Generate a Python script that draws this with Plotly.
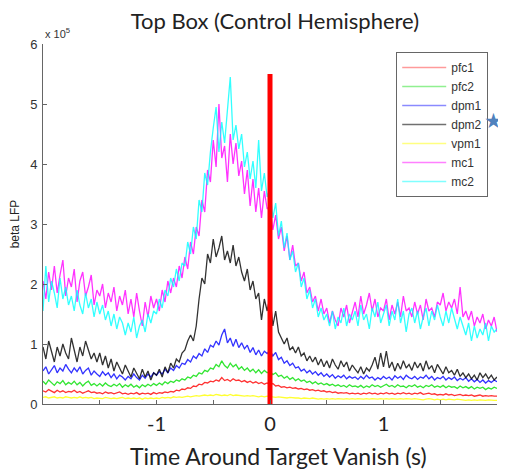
import plotly.graph_objects as go

# ---------------- data (beta LFP, units of 1e5) ----------------
t_start = -2.0
t_step = 0.025

pfc1 = [0.22, 0.20, 0.24, 0.21, 0.19, 0.23, 0.20, 0.22, 0.19, 0.21,
        0.20, 0.23, 0.19, 0.21, 0.18, 0.20, 0.22, 0.19, 0.20, 0.18,
        0.19, 0.17, 0.20, 0.18, 0.19, 0.17, 0.18, 0.20, 0.17, 0.18,
        0.16, 0.18, 0.17, 0.19, 0.16, 0.18, 0.17, 0.18, 0.16, 0.19,
        0.17, 0.19, 0.18, 0.20, 0.19, 0.21, 0.20, 0.23, 0.22, 0.25,
        0.24, 0.27, 0.26, 0.30, 0.29, 0.33, 0.32, 0.36, 0.35, 0.38,
        0.37, 0.40, 0.38, 0.44, 0.39, 0.41, 0.38, 0.42, 0.39, 0.40,
        0.37, 0.39, 0.36, 0.38, 0.35, 0.37, 0.34, 0.36, 0.33, 0.35,
        0.32, 0.34, 0.30, 0.31, 0.28, 0.29, 0.27, 0.28, 0.26, 0.27,
        0.25, 0.26, 0.24, 0.25, 0.23, 0.24, 0.22, 0.23, 0.21, 0.22,
        0.20, 0.21, 0.19, 0.20, 0.18, 0.19, 0.18, 0.19, 0.17, 0.18,
        0.17, 0.18, 0.16, 0.18, 0.17, 0.19, 0.17, 0.18, 0.16, 0.18,
        0.17, 0.19, 0.17, 0.18, 0.16, 0.18, 0.17, 0.19, 0.17, 0.18,
        0.16, 0.18, 0.17, 0.19, 0.16, 0.17, 0.18, 0.16, 0.17, 0.15,
        0.16, 0.15, 0.17, 0.15, 0.16, 0.14, 0.15, 0.16, 0.14, 0.15,
        0.14, 0.15, 0.13, 0.14, 0.15, 0.13, 0.14, 0.13, 0.14, 0.13,
        0.13]

pfc2 = [0.38, 0.33, 0.40, 0.35, 0.31, 0.37, 0.34, 0.39, 0.32, 0.36,
        0.33, 0.38, 0.32, 0.36, 0.30, 0.35, 0.38, 0.31, 0.34, 0.30,
        0.34, 0.30, 0.35, 0.31, 0.29, 0.33, 0.30, 0.34, 0.28, 0.32,
        0.29, 0.33, 0.28, 0.31, 0.27, 0.32, 0.29, 0.33, 0.30, 0.34,
        0.31, 0.35, 0.32, 0.37, 0.34, 0.38, 0.36, 0.40, 0.38, 0.42,
        0.40, 0.45, 0.43, 0.48, 0.46, 0.52, 0.50, 0.56, 0.54, 0.60,
        0.58, 0.66, 0.62, 0.72, 0.64, 0.60, 0.68, 0.62, 0.66, 0.58,
        0.62, 0.56, 0.60, 0.54, 0.58, 0.52, 0.57, 0.51, 0.56, 0.52,
        0.55, 0.49, 0.52, 0.46, 0.48, 0.43, 0.46, 0.41, 0.44, 0.39,
        0.42, 0.38, 0.40, 0.36, 0.38, 0.34, 0.37, 0.33, 0.35, 0.32,
        0.34, 0.31, 0.33, 0.30, 0.32, 0.29, 0.31, 0.28, 0.32, 0.29,
        0.30, 0.28, 0.31, 0.27, 0.30, 0.28, 0.32, 0.29, 0.31, 0.28,
        0.30, 0.33, 0.29, 0.31, 0.28, 0.32, 0.29, 0.30, 0.27, 0.31,
        0.29, 0.32, 0.28, 0.30, 0.27, 0.31, 0.29, 0.32, 0.28, 0.30,
        0.28, 0.31, 0.27, 0.30, 0.28, 0.29, 0.26, 0.30, 0.27, 0.29,
        0.26, 0.29, 0.25, 0.28, 0.26, 0.28, 0.24, 0.27, 0.25, 0.28,
        0.26]

dpm1 = [0.55, 0.62, 0.50, 0.58, 0.64, 0.52, 0.60, 0.55, 0.66, 0.58,
        0.52, 0.60, 0.54, 0.62, 0.50, 0.56, 0.60, 0.48, 0.55, 0.50,
        0.46, 0.54, 0.48, 0.52, 0.44, 0.50, 0.42, 0.48, 0.45, 0.40,
        0.46, 0.42, 0.50, 0.44, 0.40, 0.48, 0.43, 0.50, 0.45, 0.52,
        0.48, 0.54, 0.50, 0.58, 0.52, 0.60, 0.56, 0.64, 0.60, 0.68,
        0.66, 0.74, 0.70, 0.80, 0.76, 0.84, 0.80, 0.92, 0.86, 0.98,
        0.95, 1.05, 0.98, 1.15, 1.25, 1.02, 1.10, 0.96, 1.08, 0.94,
        1.02, 0.92, 0.98, 0.86, 0.94, 0.82, 0.90, 0.80, 0.88, 0.84,
        0.90, 0.80, 0.86, 0.74, 0.78, 0.68, 0.72, 0.64, 0.68, 0.60,
        0.62, 0.55, 0.58, 0.52, 0.56, 0.50, 0.54, 0.48, 0.52, 0.46,
        0.50, 0.45, 0.49, 0.43, 0.47, 0.44, 0.48, 0.42, 0.46, 0.43,
        0.45, 0.41, 0.46, 0.42, 0.48, 0.43, 0.45, 0.40, 0.44, 0.41,
        0.46, 0.42, 0.45, 0.40, 0.47, 0.43, 0.46, 0.41, 0.48, 0.44,
        0.42, 0.46, 0.41, 0.45, 0.43, 0.48, 0.42, 0.46, 0.40, 0.44,
        0.42, 0.46, 0.40, 0.44, 0.41, 0.45, 0.39, 0.43, 0.40, 0.44,
        0.38, 0.42, 0.37, 0.41, 0.36, 0.40, 0.35, 0.39, 0.36, 0.40,
        0.37]

dpm2 = [0.95, 0.75, 1.05, 0.85, 0.70, 0.95, 0.80, 1.00, 0.85, 0.75,
        1.10, 0.90, 0.70, 0.95, 0.80, 1.05, 0.90, 0.75, 0.85, 0.70,
        0.85, 0.65, 0.80, 0.60, 0.75, 0.55, 0.70, 0.60, 0.50, 0.65,
        0.55, 0.45, 0.60, 0.50, 0.42, 0.58, 0.45, 0.55, 0.40, 0.52,
        0.48, 0.58, 0.45, 0.62, 0.52, 0.68, 0.60, 0.75, 0.70, 0.85,
        0.90, 1.05, 1.15, 1.05, 1.30, 1.75, 2.10, 2.00, 2.50, 2.35,
        2.75, 2.45, 2.60, 2.80, 2.40, 2.55, 2.35, 2.65, 2.30, 2.45,
        2.20, 2.05, 2.25, 1.90, 2.05, 1.75, 1.85, 1.40, 1.75, 1.55,
        1.80, 1.30, 1.55, 1.20, 1.10, 1.00, 1.10, 0.90, 0.95, 0.85,
        0.95, 0.80, 0.85, 0.72, 0.80, 0.70, 0.78, 0.65, 0.75, 0.62,
        0.72, 0.60, 0.75, 0.65, 0.58, 0.72, 0.62, 0.70, 0.55, 0.65,
        0.58, 0.52, 0.62, 0.50, 0.60, 0.55, 0.65, 0.78, 0.58, 0.85,
        0.62, 0.88, 0.60, 0.70, 0.55, 0.68, 0.58, 0.72, 0.60, 0.66,
        0.56, 0.70, 0.60, 0.68, 0.55, 0.72, 0.58, 0.64, 0.52, 0.66,
        0.58, 0.50, 0.62, 0.52, 0.56, 0.48, 0.58, 0.46, 0.52, 0.44,
        0.50, 0.42, 0.48, 0.40, 0.52, 0.44, 0.50, 0.42, 0.48, 0.40,
        0.45]

vpm1 = [0.11, 0.12, 0.10, 0.11, 0.12, 0.10, 0.11, 0.10, 0.12, 0.11,
        0.10, 0.11, 0.10, 0.12, 0.10, 0.11, 0.10, 0.11, 0.09, 0.10,
        0.10, 0.09, 0.11, 0.10, 0.09, 0.10, 0.09, 0.10, 0.11, 0.09,
        0.10, 0.09, 0.10, 0.09, 0.10, 0.08, 0.10, 0.09, 0.10, 0.09,
        0.10, 0.09, 0.11, 0.10, 0.11, 0.10, 0.12, 0.11, 0.12, 0.11,
        0.12, 0.13, 0.12, 0.13, 0.14, 0.13, 0.14, 0.15, 0.14, 0.15,
        0.14, 0.16, 0.15, 0.14, 0.15, 0.14, 0.16, 0.14, 0.15, 0.14,
        0.14, 0.13, 0.14, 0.13, 0.14, 0.13, 0.12, 0.13, 0.12, 0.13,
        0.12, 0.12, 0.11, 0.12, 0.11, 0.11, 0.10, 0.11, 0.10, 0.10,
        0.10, 0.09, 0.10, 0.09, 0.09, 0.10, 0.09, 0.08, 0.09, 0.08,
        0.09, 0.08, 0.09, 0.08, 0.09, 0.08, 0.08, 0.09, 0.08, 0.09,
        0.08, 0.09, 0.08, 0.08, 0.09, 0.08, 0.09, 0.08, 0.08, 0.09,
        0.08, 0.09, 0.08, 0.09, 0.08, 0.08, 0.09, 0.08, 0.09, 0.08,
        0.08, 0.09, 0.08, 0.08, 0.07, 0.08, 0.09, 0.08, 0.07, 0.08,
        0.07, 0.08, 0.07, 0.08, 0.07, 0.07, 0.08, 0.07, 0.07, 0.06,
        0.07, 0.06, 0.07, 0.06, 0.07, 0.06, 0.06, 0.07, 0.06, 0.06,
        0.06]

mc1 = [2.05, 1.75, 2.20, 1.90, 2.30, 1.85, 2.15, 2.40, 1.80, 2.10,
       1.95, 2.25, 1.70, 2.05, 2.20, 1.80, 1.95, 2.15, 1.65, 1.90,
       1.80, 2.00, 1.60, 1.85, 1.70, 1.95, 1.55, 1.80, 1.65, 1.90,
       1.50, 1.75, 1.45, 1.85, 1.55, 1.30, 1.70, 1.45, 1.80, 1.60,
       1.75, 1.55, 1.90, 1.70, 2.05, 1.85, 2.10, 1.95, 2.30, 2.10,
       2.45, 2.25, 2.70, 2.50, 2.95, 2.80, 3.40, 3.20, 3.90, 3.70,
       4.40, 3.95, 5.00, 4.10, 4.30, 3.70, 4.50, 4.00, 4.35, 3.80,
       4.05, 3.50, 3.90, 3.30, 3.75, 3.20, 3.60, 3.10, 3.55, 3.25,
       3.30, 2.90, 3.15, 2.75, 2.95, 2.55, 2.80, 2.40, 2.65, 2.30,
       2.35, 2.05, 2.20, 1.85, 1.95, 1.70, 1.80, 1.55, 1.75, 1.50,
       1.60, 1.35, 1.55, 1.40, 1.30, 1.60, 1.45, 1.65, 1.35, 1.55,
       1.70, 1.45, 1.80, 1.50, 1.65, 1.85, 1.55, 1.75, 1.45, 1.60,
       1.55, 1.75, 1.40, 1.65, 1.50, 1.70, 1.45, 1.80, 1.55, 1.60,
       1.45, 1.70, 1.50, 1.65, 1.40, 1.75, 1.55, 1.60, 1.45, 1.70,
       1.65, 1.85, 1.55, 1.70, 1.60, 1.75, 1.50, 1.95, 1.45, 1.55,
       1.40, 1.55, 1.30, 1.45, 1.35, 1.50, 1.25, 1.40, 1.30, 1.45,
       1.20]

mc2 = [1.55, 2.30, 1.70, 2.05, 1.85, 1.60, 2.10, 1.75, 1.95, 1.65,
       1.80, 1.55, 1.90, 1.65, 1.50, 1.85, 1.60, 1.75, 1.45, 1.70,
       1.50, 1.65, 1.40, 1.55, 1.30, 1.50, 1.25, 1.45, 1.35, 1.15,
       1.35, 1.20, 1.45, 1.10, 1.30, 1.40, 1.20, 1.50, 1.35, 1.55,
       1.50, 1.75, 1.60, 1.90, 1.80, 2.10, 1.95, 2.25, 2.05, 2.35,
       2.30, 2.70, 2.50, 2.95, 2.75, 3.40, 3.20, 3.85, 3.65, 4.20,
       4.60, 4.95, 4.20, 4.70, 4.35, 4.85, 5.45, 4.40, 4.65, 4.25,
       4.50, 3.95, 4.20, 3.75, 4.05, 3.60, 4.40, 3.55, 3.85, 3.45,
       3.60, 3.10, 3.35, 2.80, 3.05, 2.60, 2.85, 2.40, 2.55, 2.20,
       2.35, 1.95, 2.10, 1.75, 1.90, 1.60, 1.75, 1.45, 1.60, 1.40,
       1.50, 1.30, 1.55, 1.25, 1.45, 1.35, 1.60, 1.30, 1.50, 1.40,
       1.55, 1.30, 1.65, 1.40, 1.50, 1.25, 1.60, 1.45, 1.70, 1.35,
       1.50, 1.65, 1.30, 1.55, 1.40, 1.75, 1.35, 1.55, 1.20, 1.50,
       1.60, 1.35, 1.55, 1.25, 1.45, 1.60, 1.30, 1.55, 1.40, 1.65,
       1.45, 1.30, 1.55, 1.35, 1.60, 1.40, 1.25, 1.45, 1.30, 1.15,
       1.35, 1.05, 1.30, 1.10, 1.25, 1.15, 1.35, 1.05, 1.30, 1.20,
       1.25]

series_names = ["pfc1", "pfc2", "dpm1", "dpm2", "vpm1", "mc1", "mc2"]
series_values = [pfc1, pfc2, dpm1, dpm2, vpm1, mc1, mc2]
series_colors = ["#ff0000", "#00e000", "#0000ff", "#000000", "#ffff00", "#ff00ff", "#00ffff"]
legend_colors = ["#ff9a9a", "#90f090", "#8a8aff", "#707070", "#ffff80", "#ff80ff", "#80ffff"]

event_time = 0.0      # target vanish
event_top = 5.5

x_tick_vals = [-2, -1.5, -1, -0.5, 0, 0.5, 1, 1.5, 2]
x_tick_text = ["", "", "-1", "", "0", "", "1", "", ""]
y_tick_vals = [0, 1, 2, 3, 4, 5, 6]

# ---------------- figure ----------------
fig = go.Figure()

n = len(pfc1)
time = [t_start + i * t_step for i in range(n)]

for name, vals, col in zip(series_names, series_values, series_colors):
    fig.add_trace(go.Scatter(x=time, y=vals, mode="lines", name=name,
                             line=dict(color=col, width=1.3), opacity=0.8,
                             showlegend=False, hoverinfo="skip"))

for name, col in zip(series_names, legend_colors):
    fig.add_trace(go.Scatter(x=[None], y=[None], mode="lines", name=name,
                             line=dict(color=col, width=1.5)))

fig.add_trace(go.Scatter(x=[event_time, event_time], y=[0, event_top], mode="lines",
                         line=dict(color="#ff0000", width=5), showlegend=False,
                         hoverinfo="skip"))

# the page body adds an 8px offset; size/margins compensate for it
fig.update_layout(
    width=498, height=466,
    margin=dict(l=35, r=9, t=36, b=70),
    paper_bgcolor="white", plot_bgcolor="white",
    title=dict(text="Top Box (Control Hemisphere)", x=0.536, xanchor="center",
               y=0.971, yanchor="middle",
               font=dict(family="Lato, Open Sans, sans-serif", size=22, color="#222")),
    showlegend=True,
    legend=dict(x=0.778, y=0.978, xanchor="left", yanchor="top",
                bgcolor="white", bordercolor="#666", borderwidth=1,
                font=dict(family="Arial, Liberation Sans, sans-serif", size=12, color="#333"),
                tracegroupgap=0, itemwidth=44),
    xaxis=dict(range=[-2, 2], tickmode="array", tickvals=x_tick_vals, ticktext=x_tick_text,
               ticks="inside", ticklen=4, tickcolor="#666", showline=True,
               linecolor="#666", linewidth=1, showgrid=False, zeroline=False,
               automargin=False, ticklabelstandoff=2,
               tickfont=dict(family="Lato, Open Sans, sans-serif", size=20, color="#222")),
    yaxis=dict(range=[0, 6], tickmode="array", tickvals=y_tick_vals,
               ticks="inside", ticklen=4, tickcolor="#666", showline=True,
               linecolor="#666", linewidth=1, showgrid=False, zeroline=False,
               automargin=False, ticklabelstandoff=2,
               tickfont=dict(family="Arial, Liberation Sans, sans-serif", size=13, color="#333"),
               title=dict(text="beta LFP", standoff=8,
                          font=dict(family="Arial, Liberation Sans, sans-serif", size=12, color="#222"))),
    annotations=[
        dict(text="Time Around Target Vanish (s)", xref="paper", yref="paper",
             x=0.519, y=0, xanchor="center", yanchor="middle", yshift=-52, showarrow=False,
             font=dict(family="Lato, Open Sans, sans-serif", size=23, color="#222")),
        dict(text="x 10<sup>5</sup>", xref="paper", yref="paper", x=0.0, y=1.0,
             xanchor="left", yanchor="bottom", yshift=2, showarrow=False,
             font=dict(family="Arial, Liberation Sans, sans-serif", size=11, color="#333")),
        dict(text="★", xref="paper", yref="paper", x=0.993, y=0.786,
             xanchor="center", yanchor="middle", showarrow=False,
             font=dict(family="DejaVu Sans", size=21, color="#4f81bd")),
    ],
)

fig.write_html("out.html")
